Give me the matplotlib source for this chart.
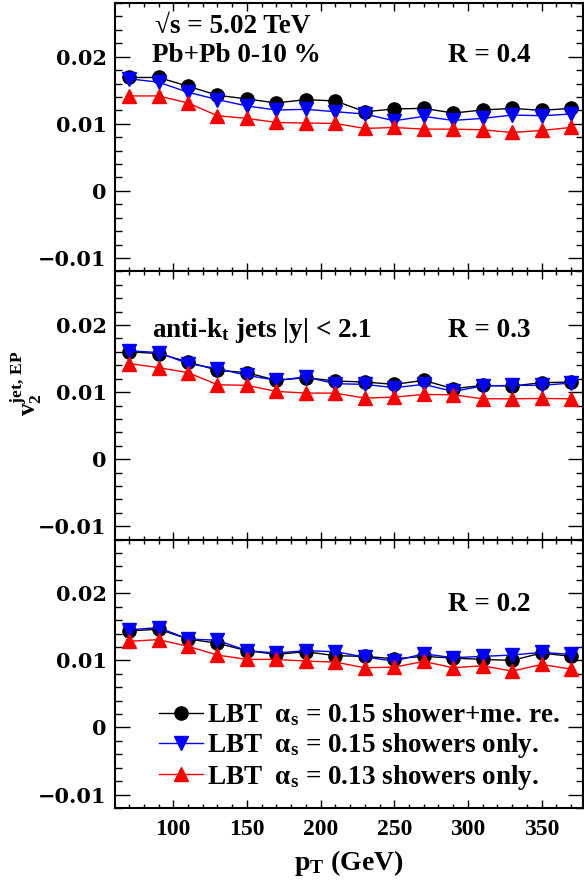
import matplotlib
matplotlib.use("Agg")
import matplotlib.pyplot as plt
import matplotlib.ticker as mticker
from matplotlib.lines import Line2D

plt.rcParams["mathtext.fontset"] = "custom"
plt.rcParams["mathtext.rm"] = "Liberation Serif:bold"
plt.rcParams["mathtext.bf"] = "Liberation Serif:bold"
plt.rcParams["mathtext.it"] = "Liberation Serif:bold"

SERIF = "Liberation Serif"

pt = [70, 90, 110, 130, 150, 170, 190, 210, 230, 250, 270, 290, 310, 330, 350, 370]

# R = 0.4
r04_me   = [0.0169, 0.0169, 0.0156, 0.01425, 0.0137, 0.0131, 0.0136, 0.0134,
            0.0118, 0.0122, 0.0123, 0.0116, 0.01205, 0.0123, 0.0120, 0.0123]
r04_a15  = [0.0167, 0.0162, 0.0147, 0.0136, 0.01265, 0.01205, 0.01215, 0.0118,
            0.01145, 0.01045, 0.0111, 0.0105, 0.0108, 0.0113, 0.0112, 0.01145]
r04_a13  = [0.01415, 0.01415, 0.0131, 0.0112, 0.0108, 0.0102, 0.0101, 0.01005,
            0.0093, 0.00945, 0.0092, 0.0092, 0.0091, 0.0087, 0.0090, 0.00945]

# R = 0.3
r03_me   = [0.0160, 0.01575, 0.0145, 0.01325, 0.0129, 0.01175, 0.01215, 0.01165,
            0.0115, 0.01115, 0.01175, 0.0105, 0.0110, 0.0109, 0.0114, 0.0115]
r03_a15  = [0.01615, 0.0159, 0.01425, 0.0135, 0.0125, 0.01175, 0.01225, 0.01125,
            0.01115, 0.01065, 0.01115, 0.0101, 0.0109, 0.0110, 0.0110, 0.01135]
r03_a13  = [0.01425, 0.01365, 0.0129, 0.0111, 0.0110, 0.0101, 0.00985, 0.00985,
            0.0091, 0.00925, 0.00965, 0.0096, 0.0090, 0.0090, 0.00905, 0.0090]

# R = 0.2
r02_me   = [0.0144, 0.01465, 0.0132, 0.01255, 0.01145, 0.0109, 0.0113, 0.0107,
            0.0106, 0.01025, 0.0106, 0.01035, 0.01015, 0.0100, 0.0111, 0.0106]
r02_a15  = [0.01455, 0.0149, 0.0132, 0.0130, 0.01145, 0.0111, 0.01145, 0.0113,
            0.0105, 0.0099, 0.0110, 0.0104, 0.0106, 0.0108, 0.0112, 0.0109]
r02_a13  = [0.01285, 0.0131, 0.0121, 0.0108, 0.01015, 0.01015, 0.0099, 0.00975,
            0.0089, 0.0090, 0.00985, 0.0089, 0.0092, 0.0084, 0.0094, 0.0087]

panels = [
    ("R = 0.4", 0.78, r04_me, r04_a15, r04_a13),
    ("R = 0.3", 0.756, r03_me, r03_a15, r03_a13),
    ("R = 0.2", 0.734, r02_me, r02_a15, r02_a13),
]

labels = [r"LBT  α$_{\rm s}$ = 0.15 shower+me. re.",
          r"LBT  α$_{\rm s}$ = 0.15 showers only.",
          r"LBT  α$_{\rm s}$ = 0.13 showers only."]

fig = plt.figure(figsize=(5.84, 8.88), dpi=100)
gs = fig.add_gridspec(3, 1, left=0.197, right=0.998, top=0.9966, bottom=0.0901, hspace=0)
axes = [fig.add_subplot(gs[i]) for i in range(3)]

for ax, (rlabel, ry, me, a15, a13) in zip(axes, panels):
    ax.plot(pt, me, color="black", lw=1.0, marker="o", ms=9.5)
    ax.plot(pt, a15, color="blue", lw=1.0, marker="v", ms=10)
    ax.plot(pt, a13, color="red", lw=1.0, marker="^", ms=10)

    ax.set_xlim(60.5, 378)
    ax.set_ylim(-0.012, 0.028)
    ax.yaxis.set_major_locator(mticker.MultipleLocator(0.01))
    ax.yaxis.set_minor_locator(mticker.MultipleLocator(0.002))
    ax.xaxis.set_major_locator(mticker.MultipleLocator(50))
    ax.xaxis.set_minor_locator(mticker.MultipleLocator(10))
    ax.yaxis.set_major_formatter(mticker.FuncFormatter(
        lambda v, _: "0" if abs(v) < 1e-9 else f"{v:.2f}".replace("-", "\u2212")))
    ax.tick_params(which="both", direction="in", top=True, right=True, width=1.0)
    ax.tick_params(axis="y", which="major", length=11)
    ax.tick_params(axis="y", which="minor", length=5)
    ax.tick_params(axis="x", which="major", length=6)
    ax.tick_params(axis="x", which="minor", length=3)
    ax.tick_params(axis="y", labelsize=15, pad=6)
    for lab in ax.get_yticklabels():
        lab.set_fontfamily("DejaVu Serif")
        lab.set_fontweight("bold")
    for sp in ax.spines.values():
        sp.set_linewidth(1.5)
    if ax is not axes[-1]:
        ax.tick_params(axis="x", labelbottom=False)

    ax.text(0.712, ry, rlabel, transform=ax.transAxes,
            fontsize=19.5, fontweight="bold", family=SERIF)

axes[0].text(0.085, 0.89, "√s = 5.02 TeV", transform=axes[0].transAxes,
             fontsize=19.5, fontweight="bold", family=SERIF)
axes[0].text(0.079, 0.78, "Pb+Pb 0-10 %", transform=axes[0].transAxes,
             fontsize=19.5, fontweight="bold", family=SERIF)
axes[1].text(0.079, 0.756, r"anti-k$_{\rm t}$ jets |y| < 2.1", transform=axes[1].transAxes,
             fontsize=19.5, fontweight="bold", family=SERIF)

axes[2].tick_params(axis="x", labelsize=17, pad=8)
for lab in axes[2].get_xticklabels():
    lab.set_fontfamily(SERIF)
    lab.set_fontweight("bold")

axes[2].set_xlabel(r"p$_{\rm T}$ (GeV)", fontsize=20, fontweight="bold", family=SERIF, labelpad=6)
fig.text(0.045, 0.568, r"v$_{2}^{\rm jet,\,EP}$", rotation=90, fontsize=18,
         fontweight="bold", family=SERIF, ha="center", va="center")

handles = [
    Line2D([], [], color="black", lw=1.0, marker="o", ms=9.5),
    Line2D([], [], color="blue", lw=1.0, marker="v", ms=10),
    Line2D([], [], color="red", lw=1.0, marker="^", ms=10),
]
leg = axes[2].legend(handles, labels, loc="lower left", bbox_to_anchor=(0.095, 0.06),
                     frameon=False, handlelength=1.6, handletextpad=0.15,
                     labelspacing=0.1, borderpad=0, borderaxespad=0,
                     prop={"family": SERIF, "weight": "bold", "size": 19.5})

fig.savefig("out.png", dpi=100)
